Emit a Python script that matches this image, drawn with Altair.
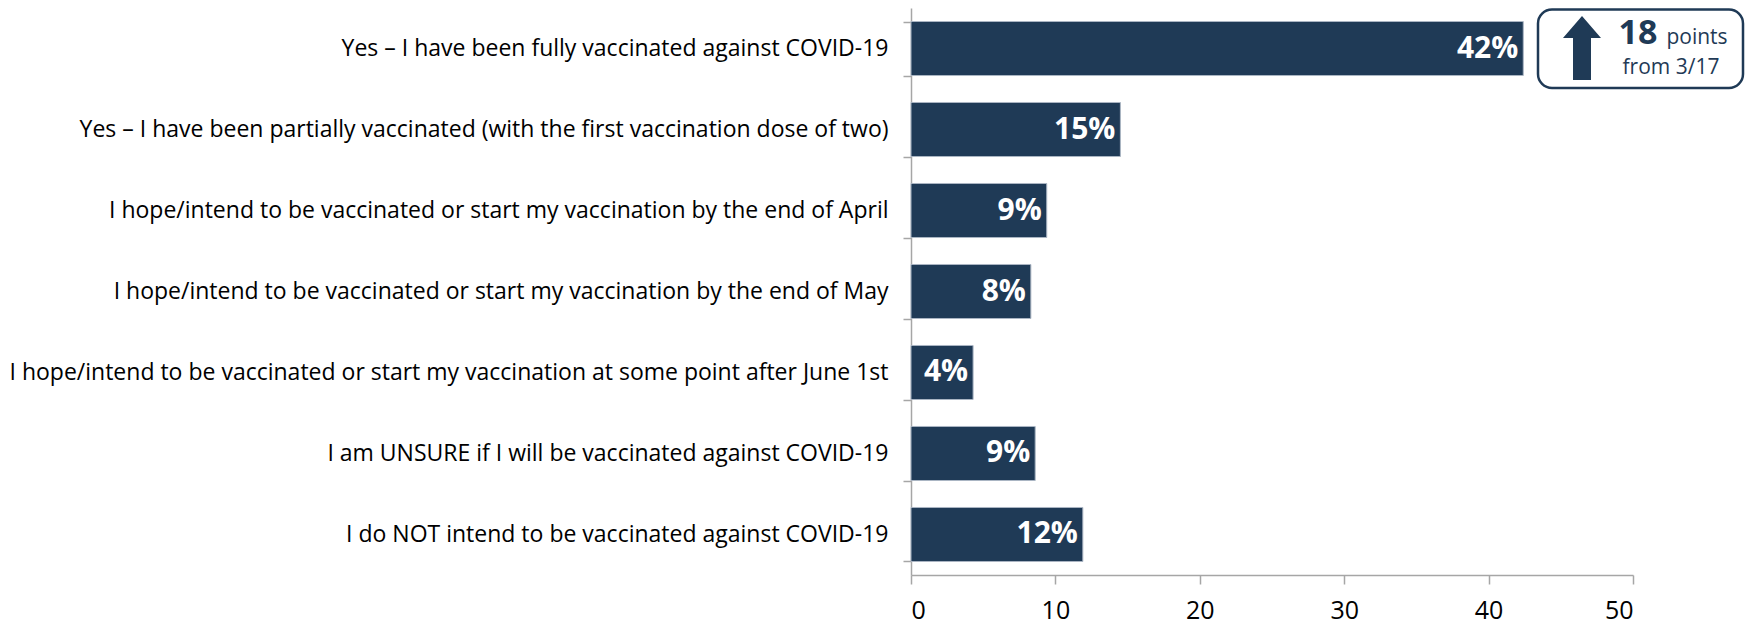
import altair as alt
import pandas as pd

categories = [
    "Yes – I have been fully vaccinated against COVID-19",
    "Yes – I have been partially vaccinated (with the first vaccination dose of two)",
    "I hope/intend to be vaccinated or start my vaccination by the end of April",
    "I hope/intend to be vaccinated or start my vaccination by the end of May",
    "I hope/intend to be vaccinated or start my vaccination at some point after June 1st",
    "I am UNSURE if I will be vaccinated against COVID-19",
    "I do NOT intend to be vaccinated against COVID-19",
]
values = [42.4, 14.5, 9.4, 8.3, 4.3, 8.6, 11.9]
labels = ["42%", "15%", "9%", "8%", "4%", "9%", "12%"]
x_ticks = [0, 10, 20, 30, 40, 50]

callout_number = ["18"]
callout_unit = ["points"]
callout_note = ["from 3/17"]

NAVY = "#1f3a56"
GRAY = "#a6a6a6"
FONT = "Open Sans"

df = pd.DataFrame({"category": categories, "value": values, "label": labels})

y_enc = alt.Y(
    "category:N",
    sort=categories,
    title=None,
    scale=alt.Scale(paddingInner=0.333, paddingOuter=0.1667),
    axis=alt.Axis(
        tickBand="extent",
        tickSize=8,
        tickColor=GRAY,
        tickWidth=1.5,
        domainColor=GRAY,
        domainWidth=1.5,
        labelFont=FONT,
        labelFontSize=23,
        labelColor="#000000",
        labelPadding=15,
        labelLimit=1200,
        grid=False,
    ),
)

x_enc = alt.X(
    "value:Q",
    title=None,
    scale=alt.Scale(domain=[0, 50], nice=False),
    axis=alt.Axis(
        values=x_ticks,
        tickSize=9,
        tickColor=GRAY,
        tickWidth=1.5,
        domainColor=GRAY,
        domainWidth=1.5,
        labelFont=FONT,
        labelFontSize=25,
        labelColor="#000000",
        labelPadding=14,
        grid=False,
    ),
)

bars = alt.Chart(df).mark_bar(color=NAVY, stroke="#aab5c3", strokeWidth=1).encode(
    x=x_enc, y=y_enc
)

bar_text = alt.Chart(df).mark_text(
    align="right", baseline="middle", dx=-5, font=FONT, fontSize=30,
    fontWeight="bold", color="white"
).encode(x="value:Q", y=alt.Y("category:N", sort=categories), text="label:N")

one = pd.DataFrame({"n": callout_number, "u": callout_unit, "f": callout_note})

box = alt.Chart(one).mark_rect(
    fill="white", stroke=NAVY, strokeWidth=2.5, cornerRadius=14
).encode(
    x=alt.value(627), x2=alt.value(832), y=alt.value(1.5), y2=alt.value(80)
)

arrow = alt.Chart(one).mark_point(
    shape="M -0.281 1 L -0.281 -0.31 L -0.594 -0.31 L 0 -1 L 0.594 -0.31 L 0.281 -0.31 L 0.281 1 Z",
    filled=True, color=NAVY, opacity=1, size=4096, strokeWidth=0,
).encode(x=alt.value(671), y=alt.value(40))

num = alt.Chart(one).mark_text(
    align="center", baseline="alphabetic", font=FONT, fontSize=34,
    fontWeight="bold", color=NAVY
).encode(x=alt.value(727), y=alt.value(36), text="n:N")

unit = alt.Chart(one).mark_text(
    align="center", baseline="alphabetic", font=FONT, fontSize=21, color=NAVY
).encode(x=alt.value(786), y=alt.value(36), text="u:N")

note = alt.Chart(one).mark_text(
    align="center", baseline="alphabetic", font=FONT, fontSize=21, color=NAVY
).encode(x=alt.value(760), y=alt.value(66), text="f:N")

chart = alt.layer(bars, bar_text, box, arrow, num, unit, note).properties(
    width=722,
    height=567,
    padding={"left": 903, "top": 0, "right": 113, "bottom": 50},
    autosize=alt.AutoSizeParams(type="none"),
    background="white",
).configure_view(stroke=None)

chart.save("out.html", embed_options={"renderer": "svg", "actions": False})
